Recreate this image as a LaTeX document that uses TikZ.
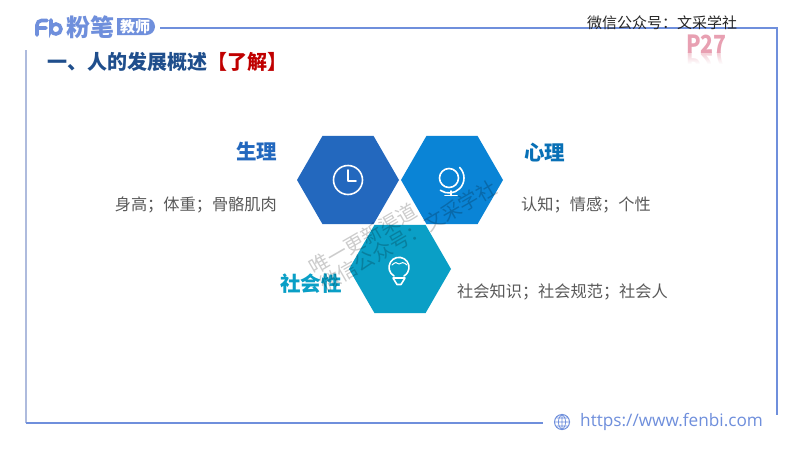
\documentclass[tikz,border=0pt]{standalone}
\usepackage{fontspec}
\setmainfont{Noto Sans CJK SC}
\newfontfamily\urlfont{Open Sans}
\usetikzlibrary{shapes.geometric,fadings}
\definecolor{frameblue}{HTML}{6F8FDC}
\definecolor{framepale}{HTML}{AEBBDD}
\definecolor{titleblue}{HTML}{1F4E8C}
\definecolor{titlered}{HTML}{C00000}
\definecolor{hexa}{HTML}{2368BE}
\definecolor{hexb}{HTML}{0A84D6}
\definecolor{hexc}{HTML}{0A9FC6}
\definecolor{bodygrey}{HTML}{595959}
\definecolor{pagepink}{HTML}{E8A0B2}
\newcommand{\pxfont}[1]{\fontsize{#1}{#1}\selectfont}
\tikzset{
	hexbox/.style={regular polygon, regular polygon sides=6,
		minimum size=102pt, inner sep=0pt, fill=#1},
	headtext/.style={font=\pxfont{20.5}\bfseries, text=#1, inner sep=0pt},
	bodytext/.style={font=\pxfont{16.2}, text=bodygrey, inner sep=0pt},
	frameline/.style={draw=frameblue, line width=1.6pt},
	icon/.style={draw=white, line width=1.6pt, line cap=round, line join=round},
	stamp/.style={font=\pxfont{20}, text=black, opacity=0.2, rotate=30, inner sep=0pt},
}
\begin{document}
\begin{tikzpicture}[x=1pt,y=-1pt]
	\useasboundingbox (0,0) rectangle (800,450);
	\fill[white] (0,0) rectangle (800,450);
	% frame
	\coordinate (topstart) at (160,28);
	\coordinate (topright) at (777,28);
	\coordinate (rightend) at (777,415);
	\coordinate (leftstart) at (26,50);
	\coordinate (bottomleft) at (26,423);
	\coordinate (bottomend) at (543,423);
	\draw[frameline] (topstart) -- (topright) -- (rightend);
	\draw[frameline, draw=framepale] (leftstart) -- (bottomleft);
	\draw[frameline] (bottomleft) -- (bottomend);
	% logo
	\draw[frameblue, line width=3.6pt, line cap=round]
		(37,35) -- (37,25) arc[start angle=180, end angle=270, radius=4.5] -- (47,20.5)
		(37,28) -- (46,28);
	\draw[frameblue, line width=3.6pt, line cap=round]
		(51,20) -- (51,29) arc[start angle=180, end angle=520, radius=5];
	\node[font=\pxfont{24}\bfseries, text=frameblue, inner sep=0pt] (brand) at (90,27) {粉笔};
	\fill[frameblue] (117,18) -- (146.5,18) arc[start angle=-90, end angle=90, radius=8.5] -- (117,35) -- cycle;
	\node[font=\pxfont{15}\bfseries, text=white, inner sep=0pt] (tag) at (135,26.5) {教师};
	% header
	\node[font=\pxfont{15}, text=black!85, inner sep=0pt] (wechat) at (662,23) {微信公众号：文采学社};
	\node[font=\pxfont{20}\bfseries, text=titleblue, anchor=west, inner sep=0pt] (title) at (47.5,62)
		{一、人的发展概述\textcolor{titlered}{【了解】}};
	\node[font=\pxfont{25}\bfseries, text=pagepink!50!white, xscale=0.85, yscale=-1, inner sep=0pt] (pageflip) at (706.5,62) {P27};
	\fill[white, path fading=north] (680,53.5) rectangle (735,64);
	\fill[white] (680,64) rectangle (735,80);
	\node[font=\pxfont{25}\bfseries, text=pagepink, xscale=0.85, inner sep=0pt] (page) at (706.5,44) {P27};
	% hexagons
	\node[hexbox=hexa] (body) at (348,180) {};
	\node[hexbox=hexb] (mind) at (452,180) {};
	\node[hexbox=hexc] (society) at (400,269) {};
	% clock
	\draw[icon] (body) circle (14.5);
	\draw[icon] (348,170) -- (348,181) -- (356,181);
	% globe
	\draw[icon] (449,178) circle (9.5);
	\draw[icon] (459.6,167.4) arc[start angle=-45, end angle=125, radius=15];
	\draw[icon] (451,191) -- (451,195.5) (445,195.5) -- (457,195.5);
	% bulb
	\draw[icon] (394,276) arc[start angle=120, end angle=420, radius=10];
	\draw[icon] (393,278) -- (405,278) -- (401,284.5) -- (397,284.5) -- cycle;
	\draw[icon, line width=1pt] (392,265) .. controls (395,262) and (397,262) .. (399,264)
		.. controls (401,262) and (404,262) .. (407,265);
	% labels
	\node[headtext=hexa, anchor=east] (bodyhead) at (277.5,151.5) {生理};
	\node[bodytext, anchor=east] (bodytxt) at (277,204.8) {身高；体重；骨骼肌肉};
	\node[headtext=hexb!85!black, anchor=west] (mindhead) at (524,152.5) {心理};
	\node[bodytext, anchor=west] (mindtxt) at (521,204.8) {认知；情感；个性};
	\node[headtext=hexc, anchor=east] (societyhead) at (342,284) {社会性};
	\node[bodytext, anchor=west] (societytxt) at (457,291.8) {社会知识；社会规范；社会人};
	% footer
	\node[font=\urlfont\pxfont{17.2}, text=frameblue, anchor=west, inner sep=0pt] (url) at (580,421.8) {https://www.fenbi.com};
	\node[circle, draw=frameblue, line width=1pt, fill=white, minimum size=15pt, inner sep=0pt] (globe) at (562,422) {};
	\draw[frameblue, line width=.7pt] (globe.north) -- (globe.south) (globe.west) -- (globe.east)
		(globe.north) .. controls (557,418) and (557,426) .. (globe.south)
		(globe.north) .. controls (567,418) and (567,426) .. (globe.south)
		(556.5,418) -- (567.5,418) (556.5,426) -- (567.5,426);
	% watermark
	\node[stamp] (stampa) at (363,239) {唯一更新渠道};
	\node[stamp] (stampb) at (408,236) {微信公众号：文采学社};
\end{tikzpicture}
\end{document}
